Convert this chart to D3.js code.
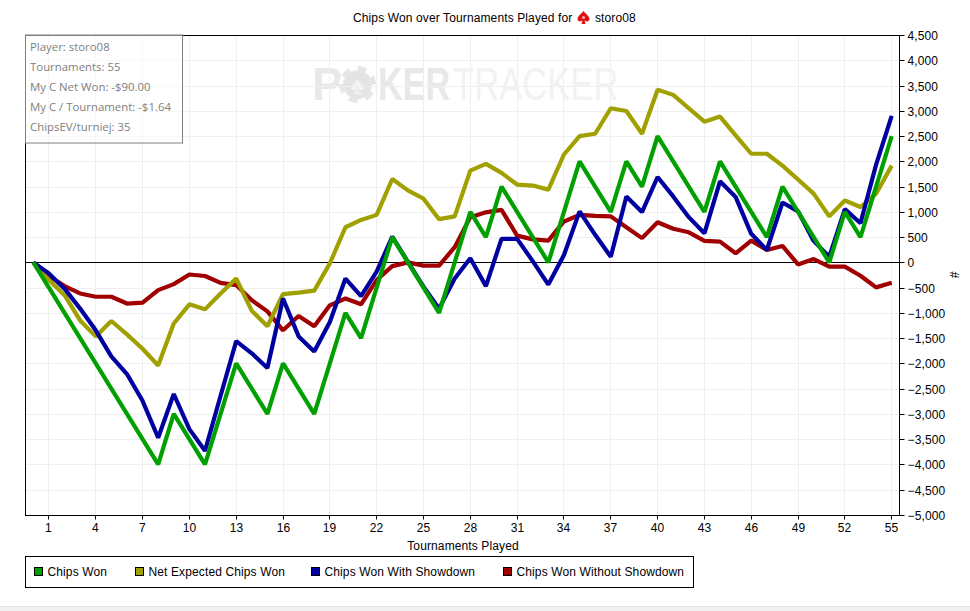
<!DOCTYPE html>
<html><head><meta charset="utf-8">
<script src="https://cdn.jsdelivr.net/npm/d3@7"></script>
<style>html,body{margin:0;padding:0;background:#fff;overflow:hidden}svg{display:block}</style>
</head><body><div id="chart"></div>
<script>
const tournaments = d3.range(0, 56);
const chipsWon = [0,-500,-1000,-1500,-2000,-2500,-3000,-3500,-4000,-3000,-3500,-4000,-3000,-2000,-2500,-3000,-2000,-2500,-3000,-2000,-1000,-1500,-500,500,0,-500,-1000,0,1000,500,1500,1000,500,0,1000,2000,1500,1000,2000,1500,2500,2000,1500,1000,2000,1500,1000,500,1500,1000,500,0,1000,500,1500,2500];
const netExpected = [0,-350,-650,-1150,-1465,-1160,-1425,-1710,-2040,-1210,-830,-930,-615,-320,-960,-1265,-630,-600,-560,-20,695,840,940,1650,1425,1260,855,910,1815,1950,1770,1540,1520,1440,2135,2500,2545,3050,2995,2545,3415,3315,3050,2785,2885,2515,2150,2150,1915,1640,1360,910,1225,1095,1360,1915];
const withShowdown = [0,-220,-520,-915,-1345,-1860,-2210,-2740,-3470,-2605,-3300,-3730,-2640,-1560,-1800,-2090,-715,-1465,-1765,-1180,-320,-670,-185,510,10,-480,-915,-320,80,-470,465,465,25,-440,145,1010,545,110,1305,995,1690,1305,895,575,1605,1295,565,245,1185,1010,425,110,1055,775,1935,2900];
const withoutShowdown = [0,-270,-470,-615,-680,-680,-815,-795,-550,-430,-240,-270,-405,-450,-750,-970,-1345,-1060,-1265,-850,-715,-830,-350,-75,0,-65,-65,300,895,990,1040,530,455,430,810,940,920,910,695,480,795,665,595,425,410,180,430,245,325,-40,65,-85,-85,-265,-495,-405];
const xTickValues = d3.range(1, 56, 3);
const yTickValues = d3.range(-5000, 4501, 500);
const infoLines = ["Player: storo08","Tournaments: 55","My C Net Won: -$90.00","My C / Tournament: -$1.64","ChipsEV/turniej: 35"];
const legendNames = ["Chips Won","Net Expected Chips Won","Chips Won With Showdown","Chips Won Without Showdown"];
const legendColors = ["#00a000","#a0a000","#0000a0","#a00000"];

const W=970,H=611,L=25.5,R=899.5,T=35,B=515;
const font='"Liberation Sans",Arial,sans-serif';
const svg=d3.select("#chart").append("svg").attr("width",W).attr("height",H).style("font-family",font).style("letter-spacing","0.12px");
const x=d3.scalePoint().domain(tournaments).range([L,R]).padding(0.5);
const y=d3.scaleLinear().domain([-5000,4500]).range([B,T]);
const xPix=d=>Math.floor(x(d))+.5, yPix=d=>Math.round(y(d))+.5;

svg.append("rect").attr("x",0).attr("y",606).attr("width",W).attr("height",5).attr("fill","#f0f0f0");
svg.append("rect").attr("x",0).attr("y",606).attr("width",W).attr("height",1).attr("fill","#e4e4e4");

// watermark
const wm=svg.append("g");
wm.append("text").attr("x",312).attr("y",100).attr("font-size",46).attr("font-weight","bold").attr("fill","#e8e8e8").text("P");
wm.append("circle").attr("cx",357.5).attr("cy",84.5).attr("r",18.5).attr("fill","#e6e6e6");
wm.append("circle").attr("cx",357.5).attr("cy",84.5).attr("r",16.5).attr("fill","none").attr("stroke","#fff").attr("stroke-width",4).attr("stroke-dasharray","8.3 9");
wm.append("circle").attr("cx",357.5).attr("cy",84.5).attr("r",13).attr("fill","#e4e4e4");
wm.append("text").attr("x",357.5).attr("y",94).attr("text-anchor","middle").attr("font-size",26).attr("fill","#f3f3f3").text("♠");
wm.append("text").attr("transform","translate(378,100) scale(.74,1)").attr("font-size",46).attr("font-weight","bold").attr("fill","#e8e8e8").text("KER");
wm.append("text").attr("transform","translate(453,100) scale(.75,1)").attr("font-size",46).attr("fill","#f2f2f2").text("TRACKER");

// grid
const g=svg.append("g");
g.selectAll("line.gy").data(yTickValues).join("line").attr("x1",L).attr("x2",R)
 .attr("y1",yPix).attr("y2",yPix).attr("stroke","#efefef");
g.selectAll("line.gx").data(xTickValues).join("line").attr("y1",T).attr("y2",B)
 .attr("x1",xPix).attr("x2",xPix).attr("stroke","#efefef");

// zero line
svg.append("line").attr("x1",L).attr("x2",R).attr("y1",yPix(0)).attr("y2",yPix(0)).attr("stroke","#000");

// axes
const ax=svg.append("g").attr("transform",`translate(0,${B+.5})`).call(d3.axisBottom(x).tickValues(xTickValues).tickSize(4).tickPadding(4).offset(0));
ax.selectAll(".tick").attr("transform",d=>`translate(${xPix(d)},0)`);
const ay=svg.append("g").attr("transform",`translate(${R},0)`).call(d3.axisRight(y).tickValues(yTickValues).tickSize(5).tickPadding(3).offset(0).tickFormat(d3.format(",")));
ay.selectAll(".tick").attr("transform",d=>`translate(0,${yPix(d)})`);
ay.selectAll("text").attr("y",1);
[ax,ay].forEach(a=>{a.selectAll("text").attr("font-size",12).attr("font-family",font).attr("fill","#000");a.selectAll("line").attr("stroke","#000");a.select(".domain").remove();});
svg.append("rect").attr("x",L).attr("y",T+.5).attr("width",R-L).attr("height",B-T).attr("fill","none").attr("stroke","#000");

// series
const line=d3.line().x((d,i)=>x(tournaments[i])).y(d=>y(d));
[[withoutShowdown,3],[netExpected,1],[withShowdown,2],[chipsWon,0]].forEach(([s,c])=>{
  svg.append("path").attr("d",line(s)).attr("fill","none").attr("stroke",legendColors[c]).attr("stroke-width",4.2).attr("stroke-linejoin","bevel");
});

// info box
svg.append("rect").attr("x",25.5).attr("y",35).attr("width",157).attr("height",108).attr("fill","#fff").attr("fill-opacity",.5).attr("stroke","#808080");
svg.append("g").selectAll("text").data(infoLines).join("text").attr("x",30).attr("y",(d,i)=>51+i*20)
 .attr("font-family",'"Open Sans",sans-serif').attr("font-size",11.4).style("letter-spacing","0").attr("fill","#808080").text(d=>d);

// title
const title=svg.append("g").attr("font-size",12).attr("fill","#000");
title.append("text").attr("x",353).attr("y",22).text("Chips Won over Tournaments Played for");
const icon=title.append("g").attr("transform","translate(583.5,18)");
icon.append("path").attr("fill","#e01010").attr("d","M0,-7C2,-4 6,-2 6,1C6,4 2,4 1,2L2,6H-2L-1,2C-2,4 -6,4 -6,1C-6,-2 -2,-4 0,-7Z");
icon.append("circle").attr("r",1.5).attr("cy",-.5).attr("fill","#ffb0b0");
title.append("text").attr("x",595).attr("y",22).text("storo08");

// axis titles
svg.append("text").attr("x",463).attr("y",550).attr("text-anchor","middle").attr("font-size",12).text("Tournaments Played");
svg.append("text").attr("transform","translate(950,275) rotate(90)").attr("text-anchor","middle").attr("font-size",12).text("#");

// legend
svg.append("rect").attr("x",25.5).attr("y",556.5).attr("width",668).attr("height",31).attr("fill","#fff").attr("stroke","#000");
const legendX=[34,135,311,503];
const lg=svg.append("g").selectAll("g").data(legendNames).join("g").attr("transform",(d,i)=>`translate(${legendX[i]},0)`);
lg.append("rect").attr("x",.5).attr("y",567.5).attr("width",8).attr("height",8).attr("fill",(d,i)=>legendColors[i]).attr("stroke","#000");
lg.append("text").attr("x",13.5).attr("y",576).attr("font-size",12).text(d=>d);
</script></body></html>
